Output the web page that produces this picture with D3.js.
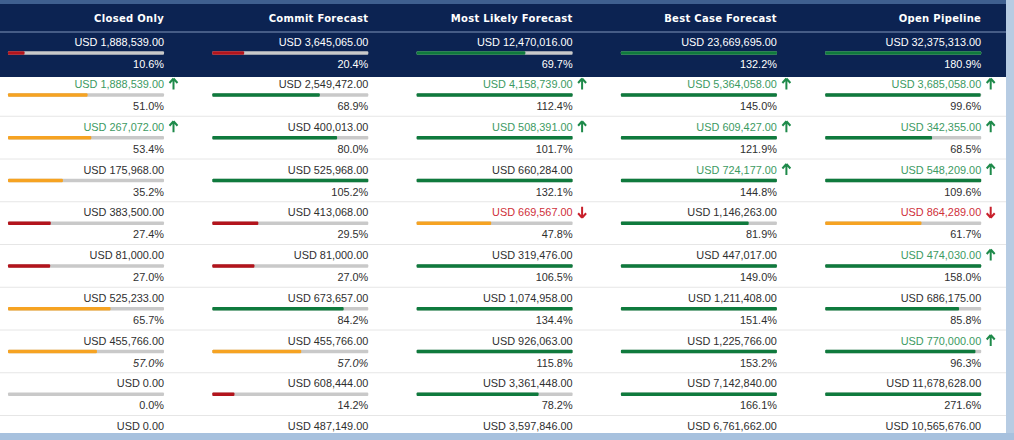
<!DOCTYPE html>
<html><head><meta charset="utf-8">
<script src="https://cdn.jsdelivr.net/npm/d3@7/dist/d3.min.js"></script>
<style>body{margin:0;background:#fff;}svg{display:block;}</style>
</head><body><svg id="c" width="1014" height="440"></svg>
<script>
const columns = ["Closed Only","Commit Forecast","Most Likely Forecast","Best Case Forecast","Open Pipeline"];
const totalValues = [1888539, 3645065, 12470016, 23669695, 32375313];
const totalPcts = [10.6, 20.4, 69.7, 132.2, 180.9];
const rowValues = [
  [1888539, 2549472, 4158739, 5364058, 3685058],
  [267072, 400013, 508391, 609427, 342355],
  [175968, 525968, 660284, 724177, 548209],
  [383500, 413068, 669567, 1146263, 864289],
  [81000, 81000, 319476, 447017, 474030],
  [525233, 673657, 1074958, 1211408, 686175],
  [455766, 455766, 926063, 1225766, 770000],
  [0, 608444, 3361448, 7142840, 11678628],
  [0, 487149, 3597846, 6761662, 10565676]
];
const rowPcts = [
  [51.0, 68.9, 112.4, 145.0, 99.6],
  [53.4, 80.0, 101.7, 121.9, 68.5],
  [35.2, 105.2, 132.1, 144.8, 109.6],
  [27.4, 29.5, 47.8, 81.9, 61.7],
  [27.0, 27.0, 106.5, 149.0, 158.0],
  [65.7, 84.2, 134.4, 151.4, 85.8],
  [57.0, 57.0, 115.8, 153.2, 96.3],
  [0.0, 14.2, 78.2, 166.1, 271.6]
];
// trend: 1 up, -1 down, 0 none
const rowTrends = [
  [1, 0, 1, 1, 1],
  [1, 0, 1, 1, 1],
  [0, 0, 0, 1, 1],
  [0, 0, -1, 0, -1],
  [0, 0, 0, 0, 1],
  [0, 0, 0, 0, 0],
  [0, 0, 0, 0, 1],
  [0, 0, 0, 0, 0]
];
const italicCells = [[6,0],[6,1]];

const svg = d3.select("#c");
const W = 1014, H = 440;
const NAVY = "#0c2352", GREEN_BAR = "#0f7a3d", ORANGE = "#f6a322", RED_BAR = "#b3141c", GRAY = "#c9c9c9";
const GREEN_TXT = "#3c9a62", RED_TXT = "#cf2f3a", TXT = "#2f2f2f";
const barColor = p => p < 30 ? RED_BAR : (p < 66.7 ? ORANGE : GREEN_BAR);
const fmt = v => "USD " + d3.format(",.2f")(v);
const fmtP = p => d3.format(".1f")(p) + "%";

const x = d3.scaleBand().domain(columns).range([0, 1021.5]);
const barW = 156, padL = 8;
const bx = c => x(c) + padL;
const pct = d3.scaleLinear().domain([0, 100]).range([0, barW]).clamp(true);
const y = d3.scaleLinear().domain([0, 1]).range([84, 126.75]);

// background frame
svg.append("rect").attr("width", W).attr("height", H).attr("fill", "#fff");
svg.append("rect").attr("x", 1006).attr("width", 8).attr("height", H).attr("fill", "#b7cce3");
svg.append("rect").attr("y", 433).attr("width", W).attr("height", 7).attr("fill", "#a7c1de");
// header
svg.append("rect").attr("width", 1006).attr("height", 77).attr("fill", NAVY);
svg.append("rect").attr("width", 1006).attr("height", 4).attr("fill", "#3f5f8f");
svg.append("line").attr("x1", 0).attr("x2", 1006).attr("y1", 32).attr("y2", 32).attr("stroke", "#5a7199").attr("stroke-width", 1.5);

svg.selectAll("text.hdr").data(columns).join("text").attr("class", "hdr")
  .attr("x", c => bx(c) + barW).attr("y", 22).attr("text-anchor", "end")
  .attr("font-family", "DejaVu Sans").attr("font-weight", "bold").attr("font-size", 10)
  .attr("letter-spacing", 0.3).attr("fill", "#fff").text(c => c);

const font = "Liberation Sans, Arial, sans-serif", fs = 10.9;

function drawCell(g, c, cy, v, p, trend, onDark, italic) {
  const right = bx(c) + barW;
  const vc = onDark ? "#fff" : (trend > 0 ? GREEN_TXT : trend < 0 ? RED_TXT : TXT);
  g.append("text").attr("x", right).attr("y", cy + 4).attr("text-anchor", "end")
    .attr("font-family", font).attr("font-size", fs).attr("fill", vc).text(fmt(v));
  if (trend !== 0) {
    const ax = right + 9.5, ac = trend > 0 ? "#1e8a4a" : "#c8202b";
    const a = g.append("g").attr("transform", `translate(${ax},${cy}) scale(1,${trend > 0 ? 1 : -1})`);
    a.append("path").attr("d", "M0,-5.5 L-4,-1 M0,-5.5 L4,-1 M0,-5.5 L0,5.5")
      .attr("stroke", ac).attr("stroke-width", 2).attr("fill", "none");
  }
  if (p === null) return;
  const by = cy + 11;
  g.append("rect").attr("x", bx(c)).attr("y", by - 1.75).attr("width", barW).attr("height", 3.5).attr("fill", GRAY).attr("rx", 1);
  g.append("rect").attr("x", bx(c)).attr("y", by - 1.75).attr("width", pct(p)).attr("height", 3.5).attr("fill", barColor(p)).attr("rx", 1);
  g.append("text").attr("x", right).attr("y", cy + 26).attr("text-anchor", "end")
    .attr("font-family", font).attr("font-size", fs).attr("font-style", italic ? "italic" : "normal")
    .attr("fill", onDark ? "#fff" : TXT).text(fmtP(p));
}

const gt = svg.append("g");
columns.forEach((c, i) => drawCell(gt, c, 42, totalValues[i], totalPcts[i], 0, true, false));

const gr = svg.append("g");
rowValues.forEach((vals, r) => {
  const cy = y(r);
  if (r > 0) gr.append("line").attr("x1", 0).attr("x2", 1006).attr("y1", cy - 10.5).attr("y2", cy - 10.5).attr("stroke", "#e6e6e6");
  columns.forEach((c, i) => {
    const p = r < rowPcts.length ? rowPcts[r][i] : null;
    const t = r < rowTrends.length ? rowTrends[r][i] : 0;
    const it = italicCells.some(d => d[0] === r && d[1] === i);
    drawCell(gr, c, cy, vals[i], p, t, false, it);
  });
});
</script></body></html>
